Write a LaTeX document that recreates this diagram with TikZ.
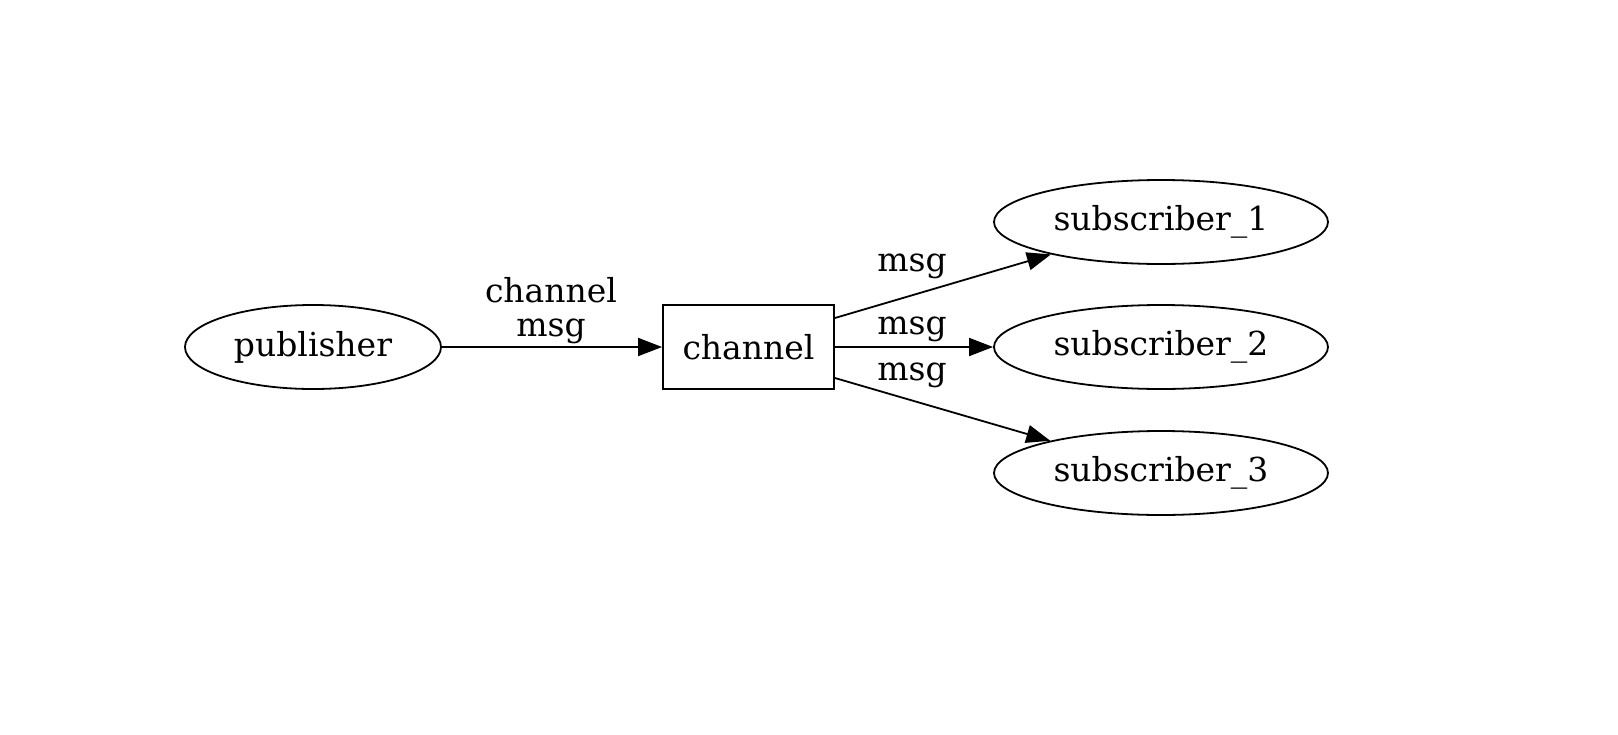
\documentclass[tikz,border=0pt]{standalone}
\usepackage{fontspec}
\setmainfont{DejaVu Serif}
\usetikzlibrary{shapes.geometric,arrows.meta}
\begin{document}
\begin{tikzpicture}[x=0.5pt,y=-0.5pt,
  every node/.style={font=\fontsize{16.5}{17}\selectfont},
  ell/.style={draw,ellipse,line width=0.9pt,inner sep=0pt,minimum height=42pt},
  box/.style={draw,rectangle,line width=0.9pt,inner sep=0pt},
  conn/.style={line width=0.9pt,-{Triangle[length=12pt,width=9pt]}},
  lbl/.style={align=center,inner sep=0pt}]
\useasboundingbox[fill=white] (0,0) rectangle (1618,734);
\node[ell,minimum width=128pt] (pub) at (313,347) {publisher};
\node[box,minimum width=85.5pt,minimum height=42pt] (ch) at (748.5,347) {channel};
\node[ell,minimum width=167pt] (s1) at (1161,222) {subscriber\_1};
\node[ell,minimum width=167pt] (s2) at (1161,347) {subscriber\_2};
\node[ell,minimum width=167pt] (s3) at (1161,473) {subscriber\_3};
\draw[conn] (pub) -- (ch);
\draw[conn] (ch.east |- 0,318) coordinate (c1) -- (s1);
\draw[conn] (ch) -- (s2);
\draw[conn] (ch.east |- 0,378) coordinate (c3) -- (s3);
\node[lbl] (l0) at (551,311) {channel\\msg};
\node[lbl] (l1) at (912,266) {msg};
\node[lbl] (l2) at (912,329) {msg};
\node[lbl] (l3) at (912,375) {msg};
\end{tikzpicture}
\end{document}
